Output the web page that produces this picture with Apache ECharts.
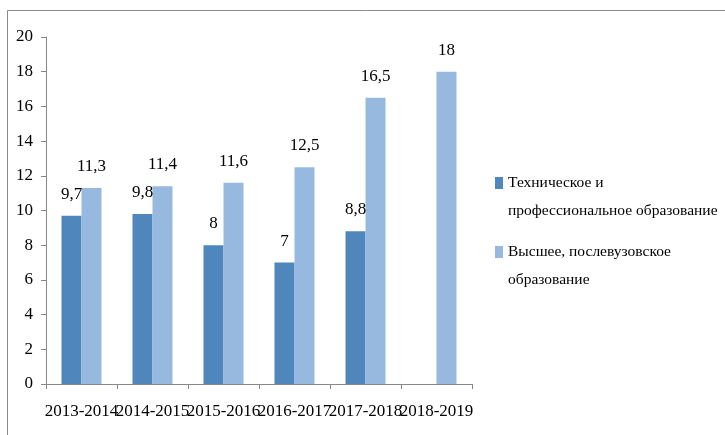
<!DOCTYPE html>
<html>
<head>
<meta charset="utf-8">
<script src="https://cdn.jsdelivr.net/npm/echarts@6/dist/echarts.min.js"></script>
<style>
  html, body { margin: 0; padding: 0; background: #fff; }
  #chart { width: 725px; height: 435px; }
</style>
</head>
<body>
<div id="chart"></div>
<script>
// Academic years on the category axis
const years = ['2013-2014', '2014-2015', '2015-2016', '2016-2017', '2017-2018', '2018-2019'];

// Series names and their wrapped legend labels
const seriesNames = [
  'Техническое и профессиональное образование',
  'Высшее, послевузовское образование'
];
const legendLines = [
  ['Техническое и', 'профессиональное образование'],
  ['Высшее, послевузовское', 'образование']
];

// Values per year (no technical/vocational figure for 2018-2019)
const technicalValues = [9.7, 9.8, 8, 7, 8.8, null];
const higherValues = [11.3, 11.4, 11.6, 12.5, 16.5, 18];

// Value axis ticks
const yMin = 0, yMax = 20, yStep = 2;

const FONT = '"Liberation Serif", "Times New Roman", serif';
const colors = ['#4F87BD', '#97B9E0'];
const axisGray = '#888888';

// Square marker sitting at the first line of a two-line legend label
const legendIcon = 'path://M0,0H8V12H0Z M0,40H0.01V40.01H0Z';

function commaLabel(p) {
  return String(p.value).replace('.', ',');
}

const chart = echarts.init(document.getElementById('chart'), null, { renderer: 'canvas' });

chart.setOption({
  animation: false,
  backgroundColor: '#ffffff',
  textStyle: { fontFamily: FONT },
  graphic: [{
    type: 'rect',
    shape: { x: 7.5, y: 10.5, width: 800, height: 500 },
    style: { fill: 'none', stroke: '#8a8a8a', lineWidth: 1 },
    silent: true
  }],
  grid: { left: 46, right: 253, top: 37, bottom: 51, containLabel: false },
  legend: {
    orient: 'vertical',
    left: 490,
    top: 164,
    itemWidth: 8,
    itemHeight: 40,
    itemGap: 13,
    icon: legendIcon,
    data: seriesNames,
    formatter: function (name) {
      return legendLines[seriesNames.indexOf(name)].join('\n');
    },
    textStyle: {
      fontFamily: FONT,
      fontSize: 15.5,
      lineHeight: 28,
      color: '#000'
    }
  },
  xAxis: {
    type: 'category',
    data: years,
    boundaryGap: true,
    axisLine: { lineStyle: { color: axisGray, width: 1 } },
    axisTick: { show: true, length: 5, inside: false, alignWithLabel: false, lineStyle: { color: axisGray } },
    axisLabel: { fontFamily: FONT, fontSize: 17, color: '#000', margin: 19, interval: 0 },
    splitLine: { show: false }
  },
  yAxis: {
    type: 'value',
    min: yMin,
    max: yMax,
    interval: yStep,
    axisLine: { show: true, lineStyle: { color: axisGray, width: 1 } },
    axisTick: { show: true, length: 5, lineStyle: { color: axisGray } },
    axisLabel: { fontFamily: FONT, fontSize: 17, color: '#000', margin: 13 },
    splitLine: { show: false }
  },
  series: [
    {
      name: seriesNames[0],
      type: 'bar',
      data: technicalValues,
      barWidth: 20,
      barGap: '0%',
      itemStyle: { color: colors[0] },
      label: {
        show: true,
        position: 'top',
        distance: 13,
        fontFamily: FONT,
        fontSize: 17,
        color: '#000',
        formatter: commaLabel
      }
    },
    {
      name: seriesNames[1],
      type: 'bar',
      data: higherValues,
      barWidth: 20,
      barGap: '0%',
      itemStyle: { color: colors[1] },
      label: {
        show: true,
        position: 'top',
        distance: 13,
        fontFamily: FONT,
        fontSize: 17,
        color: '#000',
        formatter: commaLabel
      }
    }
  ]
});
</script>
</body>
</html>
